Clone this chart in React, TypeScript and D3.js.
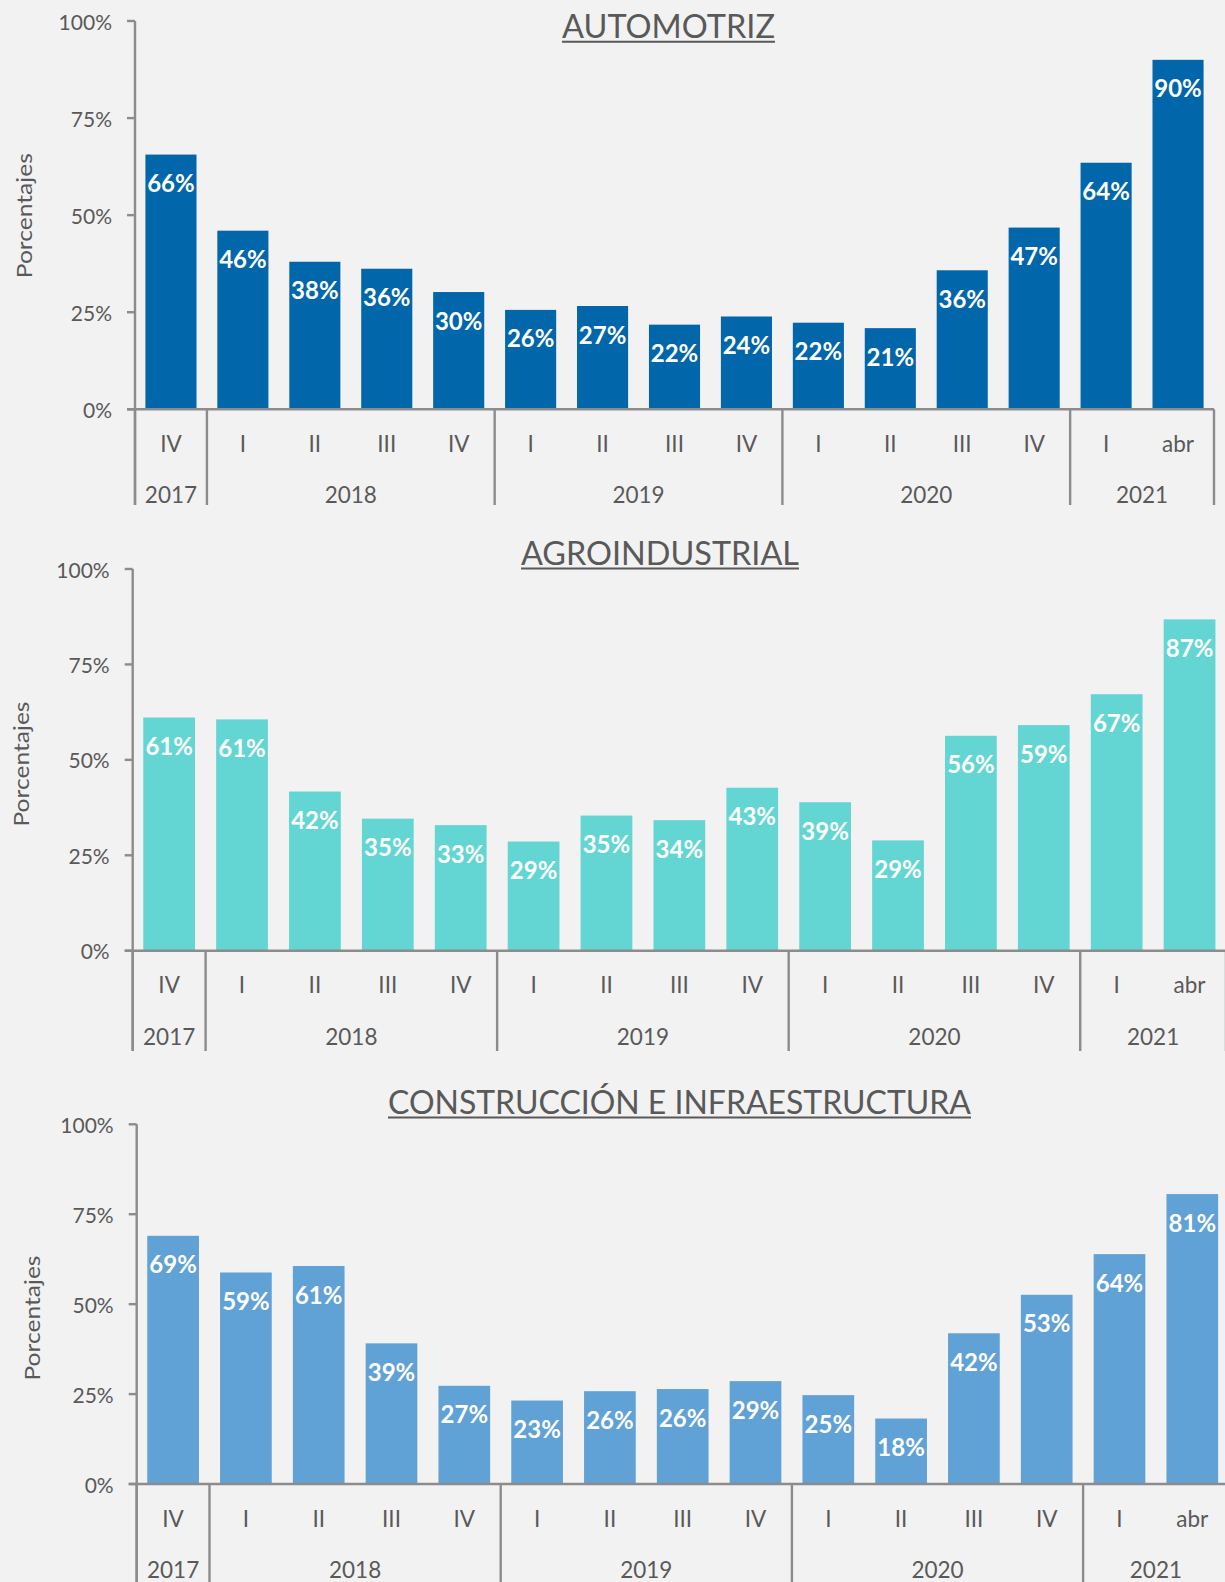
import React from "react";
import * as d3 from "d3";

const quarters = ["IV", "I", "II", "III", "IV", "I", "II", "III", "IV", "I", "II", "III", "IV", "I", "abr"];
const years = ["2017", "2018", "2018", "2018", "2018", "2019", "2019", "2019", "2019", "2020", "2020", "2020", "2020", "2021", "2021"];
const yTicks = [0, 25, 50, 75, 100];

const automotriz = [65.6, 46, 38, 36.2, 30.2, 25.6, 26.6, 21.8, 23.9, 22.3, 20.9, 35.8, 46.8, 63.5, 90];
const agroindustrial = [61.1, 60.6, 41.7, 34.6, 32.9, 28.6, 35.4, 34.2, 42.7, 38.9, 28.9, 56.3, 59.1, 67.2, 86.8];
const construccion = [69, 58.8, 60.6, 39.1, 27.3, 23.2, 25.8, 26.4, 28.6, 24.7, 18.2, 41.9, 52.6, 63.9, 80.6];

const titles = ["AUTOMOTRIZ", "AGROINDUSTRIAL", "CONSTRUCCIÓN E INFRAESTRUCTURA"];
const colors = ["#0166AA", "#63D6D3", "#60A1D6"];
const yAxisTitle = "Porcentajes";

const FONT = "Lato, 'Open Sans', sans-serif";
const TEXT = "#595959";
const AXIS = "#8C8C8C";

type Geo = {
  x0: number; x1: number; yTop: number; yZero: number; sepBottom: number;
  titleX: number; titleY: number; titleW: number; ylabX: number; ylabY: number;
};

const geos: Geo[] = [
  { x0: 135, x1: 1214, yTop: 21, yZero: 409.3, sepBottom: 505, titleX: 668.5, titleY: 38.3, titleW: 213, ylabX: 23.3, ylabY: 215.7 },
  { x0: 132.7, x1: 1226, yTop: 569, yZero: 950.7, sepBottom: 1051, titleX: 660, titleY: 565, titleW: 278, ylabX: 20, ylabY: 764 },
  { x0: 136.7, x1: 1228.7, yTop: 1124.3, yZero: 1484, sepBottom: 1582, titleX: 679.5, titleY: 1114, titleW: 583, ylabX: 31, ylabY: 1318 },
];

function Panel({ values, color, title, g }: { values: number[]; color: string; title: string; g: Geo }) {
  const idx = d3.range(values.length);
  const x = d3.scaleBand<number>().domain(idx).range([g.x0, g.x1]).paddingInner(0.29).paddingOuter(0.145);
  const xi = d3.scaleLinear().domain([0, values.length]).range([g.x0, g.x1]);
  const y = d3.scaleLinear().domain([0, 100]).range([g.yZero, g.yTop]);

  const groups: { year: string; start: number; end: number }[] = [];
  years.forEach((yr, i) => {
    const last = groups[groups.length - 1];
    if (last && last.year === yr) last.end = i + 1;
    else groups.push({ year: yr, start: i, end: i + 1 });
  });
  const seps = [0, ...groups.map((gr) => gr.end)];

  return (
    <g>
      <text x={g.titleX} y={g.titleY} textAnchor="middle" fontSize={32} fill={TEXT} fontFamily={FONT}
        textLength={g.titleW} lengthAdjust="spacingAndGlyphs">{title}</text>
      <line x1={g.titleX - g.titleW / 2} x2={g.titleX + g.titleW / 2} y1={g.titleY + 3.5} y2={g.titleY + 3.5} stroke={TEXT} strokeWidth={2} />

      <text transform={`translate(${g.ylabX},${g.ylabY}) rotate(-90)`} textAnchor="middle" dominantBaseline="central"
        fontSize={22} fill={TEXT} fontFamily={FONT} textLength={125} lengthAdjust="spacingAndGlyphs">{yAxisTitle}</text>

      {values.map((v, i) => (
        <rect key={i} x={x(i)} y={y(v)} width={x.bandwidth()} height={y(0) - y(v)} fill={color} />
      ))}
      {values.map((v, i) => (
        <text key={"l" + i} x={(x(i) as number) + x.bandwidth() / 2} y={y(v) + 37.5} textAnchor="middle"
          fontSize={24} fontWeight={700} fill="#FFFFFF" fontFamily={FONT}>{Math.round(v)}%</text>
      ))}

      <line x1={g.x0} x2={g.x0} y1={g.yTop} y2={g.sepBottom} stroke={AXIS} strokeWidth={2.4} />
      {yTicks.map((t) => (
        <g key={t}>
          <line x1={g.x0 - 8} x2={g.x0} y1={y(t)} y2={y(t)} stroke={AXIS} strokeWidth={2.4} />
          <text x={g.x0 - 23} y={y(t)} textAnchor="end" dominantBaseline="central" fontSize={21} fill={TEXT} fontFamily={FONT}>{t}%</text>
        </g>
      ))}

      <line x1={g.x0 - 8} x2={g.x1} y1={g.yZero} y2={g.yZero} stroke={AXIS} strokeWidth={2.4} />
      {seps.map((s) => (
        <line key={"s" + s} x1={xi(s)} x2={xi(s)} y1={g.yZero} y2={g.sepBottom} stroke={AXIS} strokeWidth={2.4} />
      ))}
      {quarters.map((q, i) => (
        <text key={"q" + i} x={(x(i) as number) + x.bandwidth() / 2} y={g.yZero + 34} textAnchor="middle" dominantBaseline="central"
          fontSize={22.5} fill={TEXT} fontFamily={FONT}>{q}</text>
      ))}
      {groups.map((gr) => (
        <text key={gr.year} x={(xi(gr.start) + xi(gr.end)) / 2} y={g.yZero + 94} textAnchor="middle"
          fontSize={22.5} fill={TEXT} fontFamily={FONT}>{gr.year}</text>
      ))}
    </g>
  );
}

export default function App() {
  const series = [automotriz, agroindustrial, construccion];
  return (
    <div style={{ position: "absolute", left: 0, top: 0, width: 1225, height: 1582, background: "#F2F2F2" }}>
      <svg width={1225} height={1582} style={{ display: "block" }}>
        <rect x={0} y={0} width={1225} height={1582} fill="#F2F2F2" />
        {series.map((vals, k) => (
          <Panel key={k} values={vals} color={colors[k]} title={titles[k]} g={geos[k]} />
        ))}
      </svg>
    </div>
  );
}
